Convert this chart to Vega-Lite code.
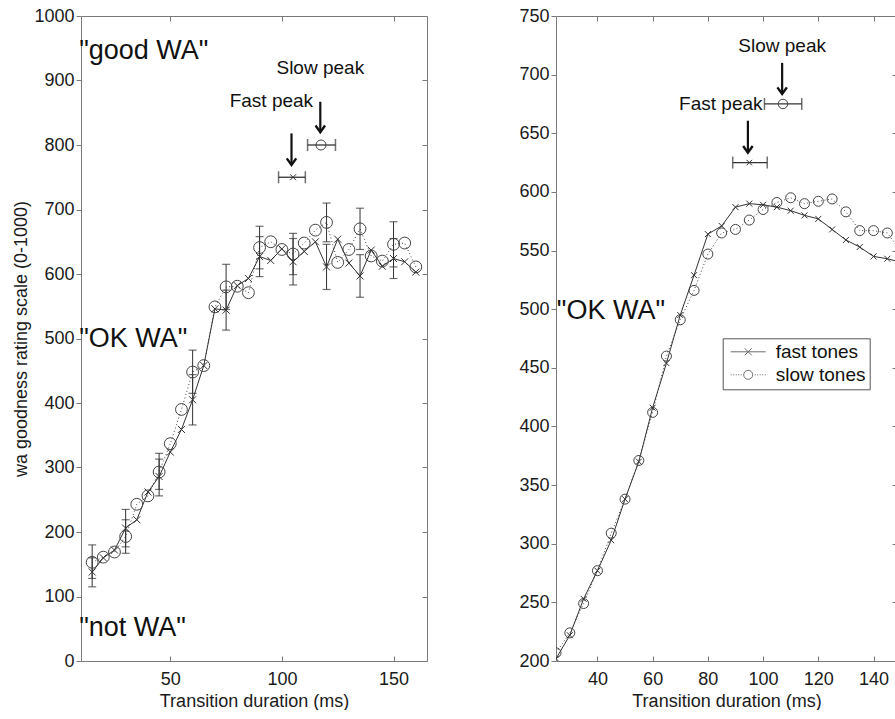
{
  "$schema": "https://vega.github.io/schema/vega-lite/v6.json",
  "background": "white",
  "padding": {"left": 12, "top": 7, "right": 0, "bottom": 0},
  "spacing": 90,
  "config": {
    "view": {"stroke": null},
    "font": "Liberation Sans",
    "axis": {
      "labelFont": "Liberation Sans", "titleFont": "Liberation Sans",
      "labelFontSize": 18, "titleFontSize": 18, "titleFontWeight": "normal",
      "labelColor": "#1a1a1a", "titleColor": "#1a1a1a",
      "domainColor": "#7a7a7a", "tickColor": "#7a7a7a", "format": "d",
      "grid": false, "labelFlush": false, "labelOverlap": false
    }
  },
  "datasets": {
    "Lmain": [
      {"ms": 15, "fast": 138, "slow": 153}, {"ms": 20, "fast": 160, "slow": 161},
      {"ms": 25, "fast": 172, "slow": 169}, {"ms": 30, "fast": 206, "slow": 193},
      {"ms": 35, "fast": 219, "slow": 243}, {"ms": 40, "fast": 262, "slow": 256},
      {"ms": 45, "fast": 286, "slow": 293}, {"ms": 50, "fast": 324, "slow": 337},
      {"ms": 55, "fast": 359, "slow": 390}, {"ms": 60, "fast": 405, "slow": 448},
      {"ms": 65, "fast": 458, "slow": 458}, {"ms": 70, "fast": 546, "slow": 549},
      {"ms": 75, "fast": 544, "slow": 580}, {"ms": 80, "fast": 582, "slow": 581},
      {"ms": 85, "fast": 593, "slow": 571}, {"ms": 90, "fast": 627, "slow": 641},
      {"ms": 95, "fast": 621, "slow": 650}, {"ms": 100, "fast": 639, "slow": 638},
      {"ms": 105, "fast": 619, "slow": 631}, {"ms": 110, "fast": 635, "slow": 648},
      {"ms": 115, "fast": 650, "slow": 668}, {"ms": 120, "fast": 611, "slow": 680},
      {"ms": 125, "fast": 654, "slow": 618}, {"ms": 130, "fast": 617, "slow": 638},
      {"ms": 135, "fast": 597, "slow": 670}, {"ms": 140, "fast": 637, "slow": 628},
      {"ms": 145, "fast": 612, "slow": 620}, {"ms": 150, "fast": 624, "slow": 646},
      {"ms": 155, "fast": 619, "slow": 648}, {"ms": 160, "fast": 603, "slow": 611}
    ],
    "Lerr": [
      {"ms": 15, "series": "fast", "lo": 115, "hi": 160}, {"ms": 15, "series": "slow", "lo": 128, "hi": 180},
      {"ms": 30, "series": "fast", "lo": 177, "hi": 235}, {"ms": 30, "series": "slow", "lo": 167, "hi": 219},
      {"ms": 45, "series": "fast", "lo": 256, "hi": 313}, {"ms": 45, "series": "slow", "lo": 266, "hi": 322},
      {"ms": 60, "series": "fast", "lo": 366, "hi": 444}, {"ms": 60, "series": "slow", "lo": 415, "hi": 482},
      {"ms": 75, "series": "fast", "lo": 513, "hi": 575}, {"ms": 75, "series": "slow", "lo": 545, "hi": 615},
      {"ms": 90, "series": "fast", "lo": 596, "hi": 658}, {"ms": 90, "series": "slow", "lo": 608, "hi": 674},
      {"ms": 105, "series": "fast", "lo": 583, "hi": 655}, {"ms": 105, "series": "slow", "lo": 599, "hi": 663},
      {"ms": 120, "series": "fast", "lo": 576, "hi": 646}, {"ms": 120, "series": "slow", "lo": 650, "hi": 710},
      {"ms": 135, "series": "fast", "lo": 564, "hi": 630}, {"ms": 135, "series": "slow", "lo": 638, "hi": 702},
      {"ms": 150, "series": "fast", "lo": 593, "hi": 655}, {"ms": 150, "series": "slow", "lo": 611, "hi": 681}
    ],
    "Lpeak": [
      {"series": "fast", "ms": 105, "r": 750, "lo": 98.5, "hi": 110.5},
      {"series": "slow", "ms": 117.5, "r": 800, "lo": 111.5, "hi": 124}
    ],
    "Larrow": [
      {"ms": 104.3, "top": 818, "tip": 769},
      {"ms": 117.2, "top": 867, "tip": 820}
    ],
    "Ltext": [
      {"label": "Slow peak", "ms": 117.2, "r": 910},
      {"label": "Fast peak", "ms": 95.3, "r": 859}
    ],
    "Lbig": [
      {"label": "\"good WA\"", "ms": 9.2, "r": 934},
      {"label": "\"OK WA\"", "ms": 9.2, "r": 487},
      {"label": "\"not WA\"", "ms": 9.2, "r": 38}
    ],
    "Rmain": [
      {"ms": 25, "fast": 202, "slow": 207}, {"ms": 30, "fast": 222, "slow": 224},
      {"ms": 35, "fast": 253, "slow": 249}, {"ms": 40, "fast": 277, "slow": 277},
      {"ms": 45, "fast": 303, "slow": 309}, {"ms": 50, "fast": 338, "slow": 338},
      {"ms": 55, "fast": 370, "slow": 371}, {"ms": 60, "fast": 416, "slow": 412},
      {"ms": 65, "fast": 454, "slow": 460}, {"ms": 70, "fast": 495, "slow": 491},
      {"ms": 75, "fast": 529, "slow": 516}, {"ms": 80, "fast": 564, "slow": 547},
      {"ms": 85, "fast": 571, "slow": 565}, {"ms": 90, "fast": 587, "slow": 568},
      {"ms": 95, "fast": 590, "slow": 576}, {"ms": 100, "fast": 589, "slow": 585},
      {"ms": 105, "fast": 587, "slow": 591}, {"ms": 110, "fast": 584, "slow": 595},
      {"ms": 115, "fast": 580, "slow": 590}, {"ms": 120, "fast": 577, "slow": 592},
      {"ms": 125, "fast": 568, "slow": 594}, {"ms": 130, "fast": 559, "slow": 583},
      {"ms": 135, "fast": 553, "slow": 567}, {"ms": 140, "fast": 545, "slow": 567},
      {"ms": 145, "fast": 543, "slow": 565}, {"ms": 150, "fast": 540, "slow": 549}
    ],
    "Rpeak": [
      {"series": "fast", "ms": 95, "r": 625, "lo": 89, "hi": 101.5},
      {"series": "slow", "ms": 107.2, "r": 675, "lo": 100.5, "hi": 114}
    ],
    "Rarrow": [
      {"ms": 94.5, "top": 660.7, "tip": 633.5},
      {"ms": 106.9, "top": 710, "tip": 683.5}
    ],
    "Rtext": [
      {"label": "Slow peak", "ms": 106.9, "r": 719},
      {"label": "Fast peak", "ms": 84.7, "r": 670}
    ],
    "Rbig": [
      {"label": "\"OK WA\"", "ms": 25.3, "r": 492}
    ]
  },
  "resolve": {"scale": {"shape": "independent"}, "legend": {"shape": "independent"}},
  "hconcat": [
    {
      "width": 346, "height": 645,
      "resolve": {"scale": {"x": "independent", "y": "independent"}, "axis": {"x": "independent", "y": "independent"}},
      "layer": [
        {
          "layer": [
            {
              "data": {"name": "Lmain"},
              "mark": {"type": "line", "color": "#444", "strokeWidth": 1, "strokeDash": [1, 2.5]},
              "encoding": {
                "x": {"field": "ms", "type": "quantitative", "scale": {"domain": [10, 165], "nice": false, "zero": false},
                      "axis": {"orient": "bottom", "title": "Transition duration (ms)", "values": [50, 100, 150], "tickSize": -5, "labelPadding": 14, "titlePadding": 4}},
                "y": {"field": "slow", "type": "quantitative", "scale": {"domain": [0, 1000], "nice": false, "zero": false},
                      "axis": {"orient": "left", "title": "wa goodness rating scale (0-1000)", "values": [0, 100, 200, 300, 400, 500, 600, 700, 800, 900, 1000], "tickSize": 5, "labelPadding": 2, "titlePadding": 3}}
              }
            },
            {
              "data": {"name": "Lmain"},
              "mark": {"type": "line", "color": "#333", "strokeWidth": 1},
              "encoding": {"x": {"field": "ms", "type": "quantitative"}, "y": {"field": "fast", "type": "quantitative"}}
            },
            {
              "data": {"name": "Lerr"},
              "mark": {"type": "rule", "color": "#333", "strokeWidth": 1},
              "encoding": {"x": {"field": "ms", "type": "quantitative"}, "y": {"field": "lo", "type": "quantitative"}, "y2": {"field": "hi"}}
            },
            {
              "data": {"name": "Lerr"},
              "mark": {"type": "tick", "orient": "horizontal", "color": "#333", "size": 8, "thickness": 1.2},
              "encoding": {"x": {"field": "ms", "type": "quantitative"}, "y": {"field": "lo", "type": "quantitative"}}
            },
            {
              "data": {"name": "Lerr"},
              "mark": {"type": "tick", "orient": "horizontal", "color": "#333", "size": 8, "thickness": 1.2},
              "encoding": {"x": {"field": "ms", "type": "quantitative"}, "y": {"field": "hi", "type": "quantitative"}}
            },
            {
              "data": {"name": "Lmain"},
              "mark": {"type": "point", "shape": "circle", "size": 140, "filled": false, "color": "#444", "strokeWidth": 1, "opacity": 1},
              "encoding": {"x": {"field": "ms", "type": "quantitative"}, "y": {"field": "slow", "type": "quantitative"}}
            },
            {
              "data": {"name": "Lmain"},
              "mark": {"type": "point", "shape": "M-1,-1L1,1M-1,1L1,-1", "size": 49, "filled": false, "color": "#333", "strokeWidth": 1, "opacity": 1},
              "encoding": {"x": {"field": "ms", "type": "quantitative"}, "y": {"field": "fast", "type": "quantitative"}}
            },
            {
              "data": {"name": "Lpeak"},
              "mark": {"type": "rule", "color": "#333", "strokeWidth": 1.3},
              "encoding": {"x": {"field": "lo", "type": "quantitative"}, "x2": {"field": "hi"}, "y": {"field": "r", "type": "quantitative"}}
            },
            {
              "data": {"name": "Lpeak"},
              "mark": {"type": "tick", "orient": "vertical", "color": "#333", "size": 12, "thickness": 1.5},
              "encoding": {"x": {"field": "lo", "type": "quantitative"}, "y": {"field": "r", "type": "quantitative"}}
            },
            {
              "data": {"name": "Lpeak"},
              "mark": {"type": "tick", "orient": "vertical", "color": "#333", "size": 12, "thickness": 1.5},
              "encoding": {"x": {"field": "hi", "type": "quantitative"}, "y": {"field": "r", "type": "quantitative"}}
            },
            {
              "data": {"name": "Lpeak"},
              "transform": [{"filter": "datum.series == 'fast'"}],
              "mark": {"type": "point", "shape": "M-1,-1L1,1M-1,1L1,-1", "size": 36, "filled": false, "color": "#333", "strokeWidth": 1, "opacity": 1},
              "encoding": {"x": {"field": "ms", "type": "quantitative"}, "y": {"field": "r", "type": "quantitative"}}
            },
            {
              "data": {"name": "Lpeak"},
              "transform": [{"filter": "datum.series == 'slow'"}],
              "mark": {"type": "point", "shape": "circle", "size": 100, "filled": false, "color": "#444", "strokeWidth": 1, "opacity": 1},
              "encoding": {"x": {"field": "ms", "type": "quantitative"}, "y": {"field": "r", "type": "quantitative"}}
            },
            {
              "data": {"name": "Larrow"},
              "mark": {"type": "rule", "color": "#111", "strokeWidth": 2.2},
              "encoding": {"x": {"field": "ms", "type": "quantitative"}, "y": {"field": "top", "type": "quantitative"}, "y2": {"field": "tip"}}
            },
            {
              "data": {"name": "Larrow"},
              "mark": {"type": "point", "shape": "M-1,-1.4L0,0L1,-1.4", "size": 90, "filled": false, "color": "#111", "strokeWidth": 2.4, "opacity": 1},
              "encoding": {"x": {"field": "ms", "type": "quantitative"}, "y": {"field": "tip", "type": "quantitative"}}
            },
            {
              "data": {"name": "Ltext"},
              "mark": {"type": "text", "font": "Liberation Sans", "fontSize": 19, "align": "center", "baseline": "alphabetic", "color": "#111"},
              "encoding": {"x": {"field": "ms", "type": "quantitative"}, "y": {"field": "r", "type": "quantitative"}, "text": {"field": "label"}}
            },
            {
              "data": {"name": "Lbig"},
              "mark": {"type": "text", "font": "Liberation Sans", "fontSize": 27, "align": "left", "baseline": "alphabetic", "color": "#111"},
              "encoding": {"x": {"field": "ms", "type": "quantitative"}, "y": {"field": "r", "type": "quantitative"}, "text": {"field": "label"}}
            }
          ]
        },
        {
          "data": {"name": "Lmain"},
          "mark": {"type": "point", "opacity": 0, "clip": true},
          "encoding": {
            "x": {"field": "ms", "type": "quantitative", "scale": {"domain": [10, 165], "nice": false, "zero": false},
                  "axis": {"orient": "top", "labels": false, "title": null, "values": [50, 100, 150], "tickSize": -5}},
            "y": {"field": "fast", "type": "quantitative", "scale": {"domain": [0, 1000], "nice": false, "zero": false},
                  "axis": {"orient": "right", "labels": false, "title": null, "values": [0, 100, 200, 300, 400, 500, 600, 700, 800, 900, 1000], "tickSize": -5}}
          }
        }
      ]
    },
    {
      "width": 341, "height": 645,
      "resolve": {"scale": {"x": "independent", "y": "independent"}, "axis": {"x": "independent", "y": "independent"}},
      "layer": [
        {
          "layer": [
            {
              "data": {"name": "Rmain"},
              "mark": {"type": "line", "color": "#444", "strokeWidth": 1, "strokeDash": [1, 2.5], "clip": true},
              "encoding": {
                "x": {"field": "ms", "type": "quantitative", "scale": {"domain": [25, 148.5], "nice": false, "zero": false},
                      "axis": {"orient": "bottom", "title": "Transition duration (ms)", "values": [40, 60, 80, 100, 120, 140], "tickSize": -5, "labelPadding": 14, "titlePadding": 4}},
                "y": {"field": "slow", "type": "quantitative", "scale": {"domain": [200, 750], "nice": false, "zero": false},
                      "axis": {"orient": "left", "title": null, "values": [200, 250, 300, 350, 400, 450, 500, 550, 600, 650, 700, 750], "tickSize": 5, "labelPadding": 2}}
              }
            },
            {
              "data": {"name": "Rmain"},
              "mark": {"type": "line", "color": "#333", "strokeWidth": 1, "clip": true},
              "encoding": {"x": {"field": "ms", "type": "quantitative"}, "y": {"field": "fast", "type": "quantitative"}}
            },
            {
              "data": {"name": "Rmain"},
              "mark": {"type": "point", "shape": "circle", "size": 100, "filled": false, "color": "#444", "strokeWidth": 1, "opacity": 1, "clip": true},
              "encoding": {"x": {"field": "ms", "type": "quantitative"}, "y": {"field": "slow", "type": "quantitative"}}
            },
            {
              "data": {"name": "Rmain"},
              "mark": {"type": "point", "shape": "M-1,-1L1,1M-1,1L1,-1", "size": 36, "filled": false, "color": "#333", "strokeWidth": 1, "opacity": 1, "clip": true},
              "encoding": {"x": {"field": "ms", "type": "quantitative"}, "y": {"field": "fast", "type": "quantitative"}}
            },
            {
              "data": {"name": "Rpeak"},
              "mark": {"type": "rule", "color": "#333", "strokeWidth": 1.3},
              "encoding": {"x": {"field": "lo", "type": "quantitative"}, "x2": {"field": "hi"}, "y": {"field": "r", "type": "quantitative"}}
            },
            {
              "data": {"name": "Rpeak"},
              "mark": {"type": "tick", "orient": "vertical", "color": "#333", "size": 12, "thickness": 1.5},
              "encoding": {"x": {"field": "lo", "type": "quantitative"}, "y": {"field": "r", "type": "quantitative"}}
            },
            {
              "data": {"name": "Rpeak"},
              "mark": {"type": "tick", "orient": "vertical", "color": "#333", "size": 12, "thickness": 1.5},
              "encoding": {"x": {"field": "hi", "type": "quantitative"}, "y": {"field": "r", "type": "quantitative"}}
            },
            {
              "data": {"name": "Rpeak"},
              "transform": [{"filter": "datum.series == 'fast'"}],
              "mark": {"type": "point", "shape": "M-1,-1L1,1M-1,1L1,-1", "size": 30, "filled": false, "color": "#333", "strokeWidth": 1, "opacity": 1},
              "encoding": {"x": {"field": "ms", "type": "quantitative"}, "y": {"field": "r", "type": "quantitative"}}
            },
            {
              "data": {"name": "Rpeak"},
              "transform": [{"filter": "datum.series == 'slow'"}],
              "mark": {"type": "point", "shape": "circle", "size": 90, "filled": false, "color": "#444", "strokeWidth": 1, "opacity": 1},
              "encoding": {"x": {"field": "ms", "type": "quantitative"}, "y": {"field": "r", "type": "quantitative"}}
            },
            {
              "data": {"name": "Rarrow"},
              "mark": {"type": "rule", "color": "#111", "strokeWidth": 2.2},
              "encoding": {"x": {"field": "ms", "type": "quantitative"}, "y": {"field": "top", "type": "quantitative"}, "y2": {"field": "tip"}}
            },
            {
              "data": {"name": "Rarrow"},
              "mark": {"type": "point", "shape": "M-1,-1.4L0,0L1,-1.4", "size": 90, "filled": false, "color": "#111", "strokeWidth": 2.4, "opacity": 1},
              "encoding": {"x": {"field": "ms", "type": "quantitative"}, "y": {"field": "tip", "type": "quantitative"}}
            },
            {
              "data": {"name": "Rtext"},
              "mark": {"type": "text", "font": "Liberation Sans", "fontSize": 19, "align": "center", "baseline": "alphabetic", "color": "#111"},
              "encoding": {"x": {"field": "ms", "type": "quantitative"}, "y": {"field": "r", "type": "quantitative"}, "text": {"field": "label"}}
            },
            {
              "data": {"name": "Rbig"},
              "mark": {"type": "text", "font": "Liberation Sans", "fontSize": 27, "align": "left", "baseline": "alphabetic", "color": "#111"},
              "encoding": {"x": {"field": "ms", "type": "quantitative"}, "y": {"field": "r", "type": "quantitative"}, "text": {"field": "label"}}
            },
            {
              "data": {"name": "Rmain"},
              "transform": [{"filter": "false"}],
              "mark": {"type": "point", "filled": false, "color": "#333", "strokeWidth": 1},
              "encoding": {
                "x": {"field": "ms", "type": "quantitative"},
                "y": {"field": "fast", "type": "quantitative"},
                "shape": {
                  "field": "series", "type": "nominal",
                  "scale": {"domain": ["fast tones", "slow tones"], "range": ["M-3.5,0L3.5,0M-0.7,-0.7L0.7,0.7M-0.7,0.7L0.7,-0.7", "M0.9,0A0.9,0.9,0,1,1,-0.9,0A0.9,0.9,0,1,1,0.9,0M-3.5,0L-3.3,0M-3,0L-2.8,0M-2.5,0L-2.3,0M-2,0L-1.8,0M-1.5,0L-1.3,0M1.3,0L1.5,0M1.8,0L2,0M2.3,0L2.5,0M2.8,0L3,0M3.3,0L3.5,0"]},
                  "legend": {
                    "orient": "none", "legendX": 166.7, "legendY": 322.3, "title": null,
                    "padding": 4, "strokeColor": "#555", "fillColor": "white", "cornerRadius": 0,
                    "labelFont": "Liberation Sans", "labelFontSize": 19, "labelColor": "#111",
                    "symbolSize": 100, "symbolStrokeWidth": 1, "symbolStrokeColor": "#333", "symbolFillColor": "transparent",
                    "symbolOffset": 12, "labelOffset": 18, "rowPadding": 3,
                    "labelExpr": "datum.label + '    '"
                  }
                }
              }
            }
          ]
        },
        {
          "data": {"name": "Rmain"},
          "mark": {"type": "point", "opacity": 0, "clip": true},
          "encoding": {
            "x": {"field": "ms", "type": "quantitative", "scale": {"domain": [25, 148.5], "nice": false, "zero": false},
                  "axis": {"orient": "top", "labels": false, "title": null, "values": [40, 60, 80, 100, 120, 140], "tickSize": -5}},
            "y": {"field": "fast", "type": "quantitative", "scale": {"domain": [200, 750], "nice": false, "zero": false},
                  "axis": {"orient": "right", "labels": false, "title": null, "domain": false, "values": [200, 250, 300, 350, 400, 450, 500, 550, 600, 650, 700, 750], "tickSize": -5}}
          }
        }
      ]
    }
  ]
}
